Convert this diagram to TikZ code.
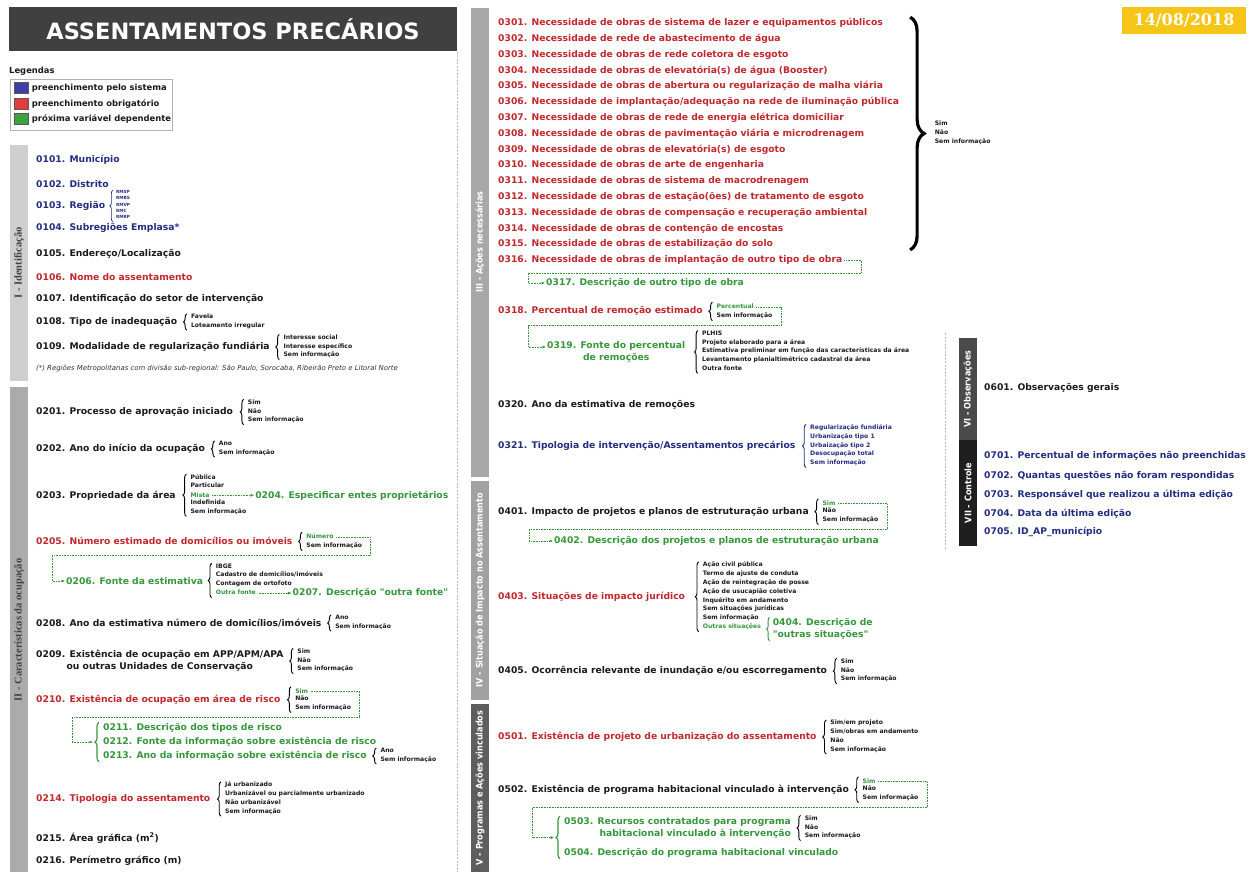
\documentclass[tikz,border=0pt]{standalone}
\usepackage{fontspec}
\setmainfont{DejaVu Sans}
\newfontfamily\condfont{DejaVu Sans Condensed}
\newfontfamily\serifbarfont{Liberation Serif}
\newfontfamily\datefont{DejaVu Serif}
\usetikzlibrary{positioning, arrows.meta, decorations.pathreplacing, calc}

\definecolor{qblue}{HTML}{232D80}
\definecolor{qred}{HTML}{C1272D}
\definecolor{qgreen}{HTML}{36963C}
\definecolor{qblack}{HTML}{1A1A1A}
\definecolor{legblue}{HTML}{3E3EA6}
\definecolor{legred}{HTML}{E23C3C}
\definecolor{leggreen}{HTML}{3CA23C}
\definecolor{titlegray}{HTML}{404040}
\definecolor{dateyellow}{HTML}{F7C518}

\newcommand{\qfont}{\fontsize{9.2}{12}\selectfont\bfseries}
\newcommand{\optfont}{\fontsize{6.1}{8.8}\selectfont\bfseries}
\newcommand{\tinyoptfont}{\fontsize{4.3}{6.3}\selectfont\bfseries}
\newcommand{\ostrut}{\rule[-2.6pt]{0pt}{8.8pt}}

\tikzset{
  quest/.style={anchor=west, inner sep=1pt, font=\qfont},
  qblk/.style={quest, text=qblack},
  qb/.style={quest, text=qblue},
  qr/.style={quest, text=qred},
  qg/.style={quest, text=qgreen},
  opts/.style={anchor=west, inner xsep=0.5pt, inner ysep=0pt, align=left,
    font=\optfont, text=qblack,
    execute at begin node=\ostrut, execute at end node=\ostrut},
  optg/.style={opts, text=qgreen},
  br/.style={decorate, decoration={brace, amplitude=3.5pt}, line width=0.9pt, draw=black},
  gbr/.style={decorate, decoration={brace, amplitude=4pt}, line width=1.1pt, draw=qgreen},
  bigbr/.style={decorate, decoration={brace, amplitude=14pt}, line width=3.2pt, draw=black},
  dep/.style={draw=qgreen, densely dotted, line width=0.6pt, -{Latex[length=3.5pt,width=3pt]}},
  sepline/.style={draw=gray!55, dashed, dash pattern=on 2pt off 1.5pt, line width=0.5pt},
  legsq/.style={draw=gray!70!black, line width=0.4pt, minimum width=14pt, minimum height=11pt, inner sep=0pt},
  legtext/.style={inner sep=1pt, font=\fontsize{8.4}{9.5}\selectfont\bfseries, text=qblack},
  barlab/.style={rotate=90, inner sep=0pt, font=\condfont\fontsize{9}{10}\selectfont\bfseries, text=white},
  barlabs/.style={rotate=90, inner sep=0pt, font=\serifbarfont\fontsize{10.5}{12}\selectfont\bfseries, text=black!75}
}

\begin{document}
\begin{tikzpicture}[x=1pt, y=-1pt]
    \useasboundingbox (0,0) rectangle (1251,872);
    \fill[white] (0,0) rectangle (1251,872);

    % Title and date
    \fill[titlegray] (9,7) rectangle (457,51);
    \node[font=\fontsize{22.5}{26}\selectfont\bfseries, text=white] (title) at (233,29) {ASSENTAMENTOS PRECÁRIOS};
    \fill[dateyellow] (1122,7) rectangle (1246,34);
    \node[font=\datefont\fontsize{16}{18}\selectfont\bfseries, text=white] (date) at (1184,20.5) {14/08/2018};

    % Column separators
    \draw[sepline] (457.5,52) -- (457.5,872);
    \draw[sepline] (945,333) -- (945,550);

    % Legend
    \node[legtext, anchor=west] (leghead) at (8,71) {Legendas};
    \draw[gray!60, line width=0.6pt] (10,79) rectangle (172,130);
    \node[legsq, fill=legblue] (sqblue) at (21.5,88) {};
    \node[legtext, right=2pt of sqblue] (legblue) {preenchimento pelo sistema};
    \node[legsq, fill=legred] (sqred) at (21.5,104) {};
    \node[legtext, right=2pt of sqred] (legred) {preenchimento obrigatório};
    \node[legsq, fill=leggreen] (sqgreen) at (21.5,119) {};
    \node[legtext, right=2pt of sqgreen] (leggreen) {próxima variável dependente};

    % Section bars
    \fill[black!19] (10,145) rectangle (28,381);
    \node[barlabs] (secI) at (19,263) {I - Identificação};
    \fill[black!33] (10,387) rectangle (28,872);
    \node[barlabs] (secII) at (19,630) {II - Características da ocupação};
    \fill[black!34] (471,8) rectangle (489,477);
    \node[barlab] (secIII) at (480,242) {III - Ações necessárias};
    \fill[black!37] (471,481) rectangle (489,700);
    \node[barlab] (secIV) at (480,590) {IV - Situação de Impacto no Assentamento};
    \fill[black!63] (471,704) rectangle (489,872);
    \node[barlab] (secV) at (480,788) {V - Programas e Ações vinculados};
    \fill[black!71] (959,338) rectangle (977,440);
    \node[barlab] (secVI) at (968,389) {VI - Observações};
    \fill[black!88] (959,440) rectangle (977,546);
    \node[barlab] (secVII) at (968,493) {VII - Controle};

    % I - Identificacao
    \node[qb] (q0101) at (35,160) {0101. Município};
    \node[qb] (q0102) at (35,184) {0102. Distrito};
    \node[qb] (q0103) at (35,206) {0103. Região};
    \node[opts, font=\tinyoptfont, text=qblue, right=9pt of q0103,
      execute at begin node={}, execute at end node={}] (o0103) {RMSP\\RMBS\\RMVP\\RMC\\RMRP};
    \draw[br, draw=qblue, line width=0.7pt, decoration={brace, amplitude=3pt}] ([xshift=-2.5pt]o0103.south west) -- ([xshift=-2.5pt]o0103.north west);
    \node[qb] (q0104) at (35,228) {0104. Subregiões Emplasa*};
    \node[qblk] (q0105) at (35,254) {0105. Endereço/Localização};
    \node[qr] (q0106) at (35,277) {0106. Nome do assentamento};
    \node[qblk] (q0107) at (35,299) {0107. Identificação do setor de intervenção};
    \node[qblk] (q0108) at (35,322) {0108. Tipo de inadequação};
    \node[opts, right=12pt of q0108] (o0108) {Favela\\Loteamento irregular};
    \draw[br] ([xshift=-3.5pt]o0108.south west) -- ([xshift=-3.5pt]o0108.north west);
    \node[qblk] (q0109) at (35,347) {0109. Modalidade de regularização fundiária};
    \node[opts, right=12pt of q0109] (o0109) {Interesse social\\Interesse específico\\Sem informação};
    \draw[br] ([xshift=-3.5pt]o0109.south west) -- ([xshift=-3.5pt]o0109.north west);
    \node[anchor=west, inner sep=1pt, font=\fontsize{6.9}{8}\selectfont\itshape, text=black!80] (note01)
      at (35,369) {(*) Regiões Metropolitanas com divisão sub-regional: São Paulo, Sorocaba, Ribeirão Preto e Litoral Norte};

    % II - Caracteristicas da ocupacao
    \node[qblk] (q0201) at (35,412) {0201. Processo de aprovação iniciado};
    \node[opts, right=13pt of q0201] (o0201) {Sim\\Não\\Sem informação};
    \draw[br] ([xshift=-3.5pt]o0201.south west) -- ([xshift=-3.5pt]o0201.north west);
    \node[qblk] (q0202) at (35,449) {0202. Ano do início da ocupação};
    \node[opts, right=12pt of q0202] (o0202) {Ano\\Sem informação};
    \draw[br] ([xshift=-3.5pt]o0202.south west) -- ([xshift=-3.5pt]o0202.north west);

    \node[qblk] (q0203) at (35,496) {0203. Propriedade da área};
    \node[opts, anchor=north west] (o0203a) at ([shift={(13pt,22pt)}]q0203.east) {Pública\\Particular};
    \node[optg, anchor=north west] (o0203b) at (o0203a.south west) {Mista};
    \node[opts, anchor=north west] (o0203c) at (o0203b.south west) {Indefinida\\Sem informação};
    \draw[br] ([xshift=-3.5pt]o0203c.south west) -- ([xshift=-3.5pt]o0203a.north west);
    \node[qg, right=44pt of o0203b] (q0204) {0204. Especificar entes proprietários};
    \draw[dep] ([xshift=2pt]o0203b.east) -- (q0204.west);

    \node[qr] (q0205) at (35,541) {0205. Número estimado de domicílios ou imóveis};
    \node[optg, anchor=north west] (o0205a) at ([shift={(12pt,8.8pt)}]q0205.east) {Número};
    \node[opts, anchor=north west] (o0205b) at (o0205a.south west) {Sem informação};
    \draw[br] ([xshift=-3.5pt]o0205b.south west) -- ([xshift=-3.5pt]o0205a.north west);
    \node[qg] (q0206) at (65,581) {0206. Fonte da estimativa};
    \draw[dep] ([xshift=2pt]o0205a.east) -| ([shift={(8pt,-5pt)}]o0205b.south east)
      -| ([xshift=-13pt]q0206.west) -- (q0206.west);
    \node[opts, anchor=north west] (o0206a) at ([shift={(11pt,17.6pt)}]q0206.east) {IBGE\\Cadastro de domicílios/imóveis\\Contagem de ortofoto};
    \node[optg, anchor=north west] (o0206b) at (o0206a.south west) {Outra fonte};
    \draw[br] ([xshift=-3.5pt]o0206b.south west) -- ([xshift=-3.5pt]o0206a.north west);
    \node[qg, right=35pt of o0206b] (q0207) {0207. Descrição \textquotedbl outra fonte\textquotedbl};
    \draw[dep] ([xshift=2pt]o0206b.east) -- (q0207.west);

    \node[qblk] (q0208) at (35,623) {0208. Ano da estimativa número de domicílios/imóveis};
    \node[opts, right=12pt of q0208] (o0208) {Ano\\Sem informação};
    \draw[br] ([xshift=-3.5pt]o0208.south west) -- ([xshift=-3.5pt]o0208.north west);
    \node[qblk, align=center] (q0209) at (35,661) {0209. Existência de ocupação em APP/APM/APA\\ou outras Unidades de Conservação};
    \node[opts, right=12pt of q0209] (o0209) {Sim\\Não\\Sem informação};
    \draw[br] ([xshift=-3.5pt]o0209.south west) -- ([xshift=-3.5pt]o0209.north west);

    \node[qr] (q0210) at (35,700) {0210. Existência de ocupação em área de risco};
    \node[optg, anchor=north west] (o0210a) at ([shift={(13pt,13.2pt)}]q0210.east) {Sim};
    \node[opts, anchor=north west] (o0210b) at (o0210a.south west) {Não\\Sem informação};
    \draw[br] ([xshift=-3.5pt]o0210b.south west) -- ([xshift=-3.5pt]o0210a.north west);
    \node[qg] (q0211) at (102,728) {0211. Descrição dos tipos de risco};
    \node[qg] (q0212) at (102,742) {0212. Fonte da informação sobre existência de risco};
    \node[qg] (q0213) at (102,756) {0213. Ano da informação sobre existência de risco};
    \draw[gbr] ([xshift=-3pt]q0213.south west) -- ([xshift=-3pt]q0211.north west);
    \coordinate (m0211) at ($(q0211.north west)!.5!(q0213.south west)+(-9pt,0)$);
    \draw[dep] ([xshift=2pt]o0210a.east) -| ([shift={(8pt,-5pt)}]o0210b.south east)
      -| ([xshift=-21pt]m0211) -- (m0211);
    \node[opts, right=12pt of q0213] (o0213) {Ano\\Sem informação};
    \draw[br] ([xshift=-3.5pt]o0213.south west) -- ([xshift=-3.5pt]o0213.north west);

    \node[qr] (q0214) at (35,799) {0214. Tipologia do assentamento};
    \node[opts, right=13pt of q0214] (o0214) {Já urbanizado\\Urbanizável ou parcialmente urbanizado\\Não urbanizável\\Sem informação};
    \draw[br] ([xshift=-3.5pt]o0214.south west) -- ([xshift=-3.5pt]o0214.north west);
    \node[qblk] (q0215) at (35,838) {0215. Área gráfica (m\textsuperscript{2})};
    \node[qblk] (q0216) at (35,861) {0216. Perímetro gráfico (m)};

    % III - Acoes necessarias
    \node[qr] (q0301) at (497,23) {0301. Necessidade de obras de sistema de lazer e equipamentos públicos};
    \node[qr] (q0302) at (497,38.8) {0302. Necessidade de rede de abastecimento de água};
    \node[qr] (q0303) at (497,54.6) {0303. Necessidade de obras de rede coletora de esgoto};
    \node[qr] (q0304) at (497,70.4) {0304. Necessidade de obras de elevatória(s) de água (Booster)};
    \node[qr] (q0305) at (497,86.2) {0305. Necessidade de obras de abertura ou regularização de malha viária};
    \node[qr] (q0306) at (497,102) {0306. Necessidade de implantação/adequação na rede de iluminação pública};
    \node[qr] (q0307) at (497,117.8) {0307. Necessidade de obras de rede de energia elétrica domiciliar};
    \node[qr] (q0308) at (497,133.6) {0308. Necessidade de obras de pavimentação viária e microdrenagem};
    \node[qr] (q0309) at (497,149.4) {0309. Necessidade de obras de elevatória(s) de esgoto};
    \node[qr] (q0310) at (497,165.2) {0310. Necessidade de obras de arte de engenharia};
    \node[qr] (q0311) at (497,181) {0311. Necessidade de obras de sistema de macrodrenagem};
    \node[qr] (q0312) at (497,196.8) {0312. Necessidade de obras de estação(ões) de tratamento de esgoto};
    \node[qr] (q0313) at (497,212.6) {0313. Necessidade de obras de compensação e recuperação ambiental};
    \node[qr] (q0314) at (497,228.4) {0314. Necessidade de obras de contenção de encostas};
    \node[qr] (q0315) at (497,244.2) {0315. Necessidade de obras de estabilização do solo};
    \draw[bigbr] ([xshift=10pt]q0306.east |- q0301.north) -- ([xshift=10pt]q0306.east |- q0315.south);
    \node[opts] (o0301) at ([xshift=34pt]q0306.east |- q0308.center) {Sim\\Não\\Sem informação};
    \node[qr] (q0316) at (497,260) {0316. Necessidade de obras de implantação de outro tipo de obra};
    \node[qg] (q0317) at (545,283) {0317. Descrição de outro tipo de obra};
    \draw[dep] ([xshift=1pt]q0316.east) -| ([shift={(18pt,-13pt)}]q0316.east)
      -| ([xshift=-17pt]q0317.west) -- (q0317.west);

    \node[qr] (q0318) at (497,311) {0318. Percentual de remoção estimado};
    \node[optg, anchor=north west] (o0318a) at ([shift={(12pt,8.8pt)}]q0318.east) {Percentual};
    \node[opts, anchor=north west] (o0318b) at (o0318a.south west) {Sem informação};
    \draw[br] ([xshift=-3.5pt]o0318b.south west) -- ([xshift=-3.5pt]o0318a.north west);
    \node[qg, align=center] (q0319) at (546,352) {0319. Fonte do percentual\\de remoções};
    \draw[dep] ([xshift=2pt]o0318a.east) -| ([shift={(8pt,-5pt)}]o0318b.south east)
      -| ([shift={(-18pt,5pt)}]q0319.west) -- ([yshift=5pt]q0319.west);
    \node[opts, right=15pt of q0319] (o0319) {PLHIS\\Projeto elaborado para a área\\Estimativa preliminar em função das características da área\\Levantamento planialtimétrico cadastral da área\\Outra fonte};
    \draw[br] ([xshift=-3.5pt]o0319.south west) -- ([xshift=-3.5pt]o0319.north west);

    \node[qblk] (q0320) at (497,405) {0320. Ano da estimativa de remoções};
    \node[qb] (q0321) at (497,446) {0321. Tipologia de intervenção/Assentamentos precários};
    \node[opts, text=qblue, right=13pt of q0321] (o0321) {Regularização fundiária\\Urbanização tipo 1\\Urbaização tipo 2\\Desocupação total\\Sem informação};
    \draw[br, draw=qblue] ([xshift=-3.5pt]o0321.south west) -- ([xshift=-3.5pt]o0321.north west);

    % IV - Situacao de impacto
    \node[qblk] (q0401) at (497,512) {0401. Impacto de projetos e planos de estruturação urbana};
    \node[optg, anchor=north west] (o0401a) at ([shift={(12pt,13.2pt)}]q0401.east) {Sim};
    \node[opts, anchor=north west] (o0401b) at (o0401a.south west) {Não\\Sem informação};
    \draw[br] ([xshift=-3.5pt]o0401b.south west) -- ([xshift=-3.5pt]o0401a.north west);
    \node[qg] (q0402) at (553,541) {0402. Descrição dos projetos e planos de estruturação urbana};
    \draw[dep] ([xshift=2pt]o0401a.east) -| ([shift={(8pt,-5pt)}]o0401b.south east)
      -| ([xshift=-24pt]q0402.west) -- (q0402.west);

    \node[qr] (q0403) at (497,597) {0403. Situações de impacto jurídico};
    \node[opts, anchor=north west] (o0403a) at ([shift={(16pt,35.2pt)}]q0403.east) {Ação civil pública\\Termo de ajuste de conduta\\Ação de reintegração de posse\\Ação de usucapião coletiva\\Inquérito em andamento\\Sem situações jurídicas\\Sem informação};
    \node[optg, anchor=north west] (o0403b) at (o0403a.south west) {Outras situações};
    \draw[br] ([xshift=-3.5pt]o0403b.south west) -- ([xshift=-3.5pt]o0403a.north west);
    \node[qg, align=left] (q0404) at ([shift={(10pt,-2pt)}]o0403b.east) {0404. Descrição de\\\textquotedbl outras situações\textquotedbl};
    \draw[gbr, line width=0.9pt, decoration={brace, amplitude=3pt}] ([xshift=-2pt]q0404.south west) -- ([xshift=-2pt]q0404.north west);

    \node[qblk] (q0405) at (497,671) {0405. Ocorrência relevante de inundação e/ou escorregamento};
    \node[opts, right=12pt of q0405] (o0405) {Sim\\Não\\Sem informação};
    \draw[br] ([xshift=-3.5pt]o0405.south west) -- ([xshift=-3.5pt]o0405.north west);

    % V - Programas e acoes vinculados
    \node[qr] (q0501) at (497,737) {0501. Existência de projeto de urbanização do assentamento};
    \node[opts, right=12pt of q0501] (o0501) {Sim/em projeto\\Sim/obras em andamento\\Não\\Sem informação};
    \draw[br] ([xshift=-3.5pt]o0501.south west) -- ([xshift=-3.5pt]o0501.north west);

    \node[qblk] (q0502) at (497,790) {0502. Existência de programa habitacional vinculado à intervenção};
    \node[optg, anchor=north west] (o0502a) at ([shift={(12pt,13.2pt)}]q0502.east) {Sim};
    \node[opts, anchor=north west] (o0502b) at (o0502a.south west) {Não\\Sem informação};
    \draw[br] ([xshift=-3.5pt]o0502b.south west) -- ([xshift=-3.5pt]o0502a.north west);
    \node[qg, align=right] (q0503) at (563,828) {0503. Recursos contratados para programa\\habitacional vinculado à intervenção};
    \node[qg] (q0504) at (563,853) {0504. Descrição do programa habitacional vinculado};
    \draw[gbr] ([xshift=-3pt]q0504.south west) -- ([xshift=-3pt]q0503.north west);
    \coordinate (m0503) at ($(q0503.north west)!.5!(q0504.south west)+(-9pt,0)$);
    \draw[dep] ([xshift=2pt]o0502a.east) -| ([shift={(8pt,-5pt)}]o0502b.south east)
      -| ([xshift=-22pt]m0503) -- (m0503);
    \node[opts, right=12pt of q0503] (o0503) {Sim\\Não\\Sem informação};
    \draw[br] ([xshift=-3.5pt]o0503.south west) -- ([xshift=-3.5pt]o0503.north west);

    % VI - Observacoes and VII - Controle
    \node[qblk] (q0601) at (983,388) {0601. Observações gerais};
    \node[qb] (q0701) at (983,456) {0701. Percentual de informações não preenchidas};
    \node[qb] (q0702) at (983,476) {0702. Quantas questões não foram respondidas};
    \node[qb] (q0703) at (983,495) {0703. Responsável que realizou a última edição};
    \node[qb] (q0704) at (983,514) {0704. Data da última edição};
    \node[qb] (q0705) at (983,532) {0705. ID\_AP\_município};

\end{tikzpicture}
\end{document}
